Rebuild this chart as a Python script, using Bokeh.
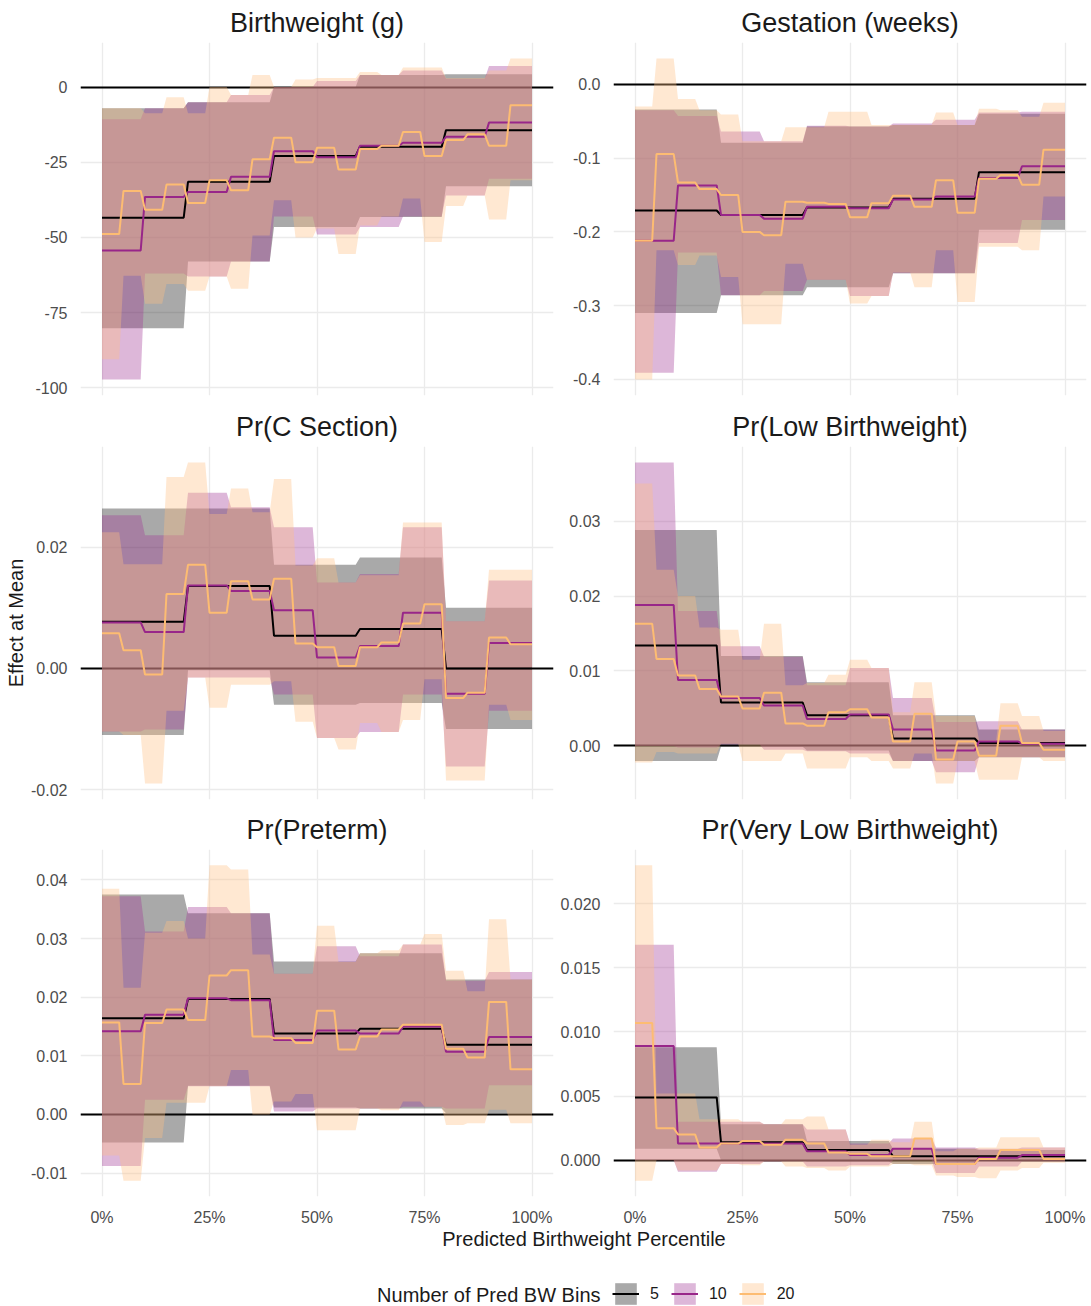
import numpy as np
from bokeh.plotting import figure
from bokeh.layouts import column, row
from bokeh.models import Range1d, FixedTicker, PrintfTickFormatter, Grid, Legend, LegendItem
from bokeh.embed import file_html
from bokeh.resources import INLINE
from bokeh.core.properties import value

# ---------------- data (bin-level estimates) ----------------
BIN_COUNTS = [5, 10, 20]
SERIES_LABELS = ["5", "10", "20"]
X_TICKS = [0, 25, 50, 75, 100]
X_TITLE = "Predicted Birthweight Percentile"
Y_TITLE = "Effect at Mean"
LEGEND_TITLE = "Number of Pred BW Bins"
REF_LINE = 0

# Birthweight (g)
BW_TITLE = "Birthweight (g)"
BW_TICKS = [-100, -75, -50, -25, 0]
BW_EST5 = [-43.4, -31.5, -22.9, -19.8, -14.3]
BW_LO5 = [-80.2, -58.0, -46.5, -43.2, -33.0]
BW_HI5 = [-7.0, -5.0, 0.0, 4.0, 4.3]
BW_EST10 = [-54.3, -36.5, -34.9, -29.8, -21.3, -23.3, -19.5, -18.5, -16.5, -11.8]
BW_LO10 = [-97.2, -62.0, -63.0, -58.0, -43.0, -49.0, -46.5, -43.0, -36.0, -30.5]
BW_HI10 = [-10.7, -7.0, -5.0, -2.6, 0.0, 2.0, 4.0, 5.5, 2.8, 7.0]
BW_EST20 = [-48.8, -34.5, -40.8, -32.4, -38.5, -31.0, -34.3, -24.0, -16.8, -25.0,
            -20.2, -27.4, -20.6, -19.5, -14.9, -22.9, -17.6, -15.7, -19.5, -6.0]
BW_LO20 = [-90.5, -62.7, -72.0, -65.5, -67.7, -63.0, -67.0, -49.3, -37.6, -50.0,
           -47.0, -55.5, -46.0, -43.0, -37.0, -51.5, -39.5, -36.0, -44.0, -31.0]
BW_HI20 = [-7.0, -7.0, -8.7, -3.4, -8.7, 0.0, -2.6, 4.0, 0.0, 2.5,
           3.0, 3.0, 5.0, 4.0, 6.5, 6.5, 3.0, 3.0, 5.5, 9.5]

# Gestation (weeks)
GS_TITLE = "Gestation (weeks)"
GS_TICKS = [-0.4, -0.3, -0.2, -0.1, 0.0]
GS_EST5 = [-0.171, -0.177, -0.167, -0.155, -0.119]
GS_LO5 = [-0.310, -0.286, -0.275, -0.256, -0.197]
GS_HI5 = [-0.034, -0.079, -0.057, -0.055, -0.040]
GS_EST10 = [-0.212, -0.137, -0.177, -0.182, -0.166, -0.168, -0.156, -0.152, -0.127, -0.111]
GS_LO10 = [-0.391, -0.228, -0.286, -0.280, -0.265, -0.287, -0.256, -0.256, -0.215, -0.184]
GS_HI10 = [-0.035, -0.043, -0.064, -0.077, -0.056, -0.057, -0.053, -0.048, -0.038, -0.037]
GS_EST20 = [-0.212, -0.0945, -0.133, -0.142, -0.150, -0.200, -0.2045, -0.159, -0.1605, -0.162,
            -0.180, -0.161, -0.151, -0.166, -0.130, -0.174, -0.128, -0.123, -0.136, -0.0886]
GS_LO20 = [-0.400, -0.225, -0.245, -0.232, -0.261, -0.325, -0.325, -0.243, -0.265, -0.265,
           -0.297, -0.287, -0.255, -0.275, -0.225, -0.295, -0.220, -0.220, -0.225, -0.152]
GS_HI20 = [-0.030, 0.035, -0.020, -0.035, -0.041, -0.077, -0.077, -0.058, -0.058, -0.037,
           -0.037, -0.055, -0.055, -0.055, -0.038, -0.055, -0.033, -0.035, -0.044, -0.025]

# Pr(C Section)
CS_TITLE = "Pr(C Section)"
CS_TICKS = [-0.02, 0.0, 0.02]
CS_EST5 = [0.0077, 0.0136, 0.0054, 0.0065, 0.0000]
CS_LO5 = [-0.0110, -0.0003, -0.0060, -0.0057, -0.0100]
CS_HI5 = [0.0264, 0.0264, 0.0171, 0.0183, 0.0100]
CS_EST10 = [0.0076, 0.0060, 0.0137, 0.0128, 0.0096, 0.0018, 0.0037, 0.0092, -0.0042, 0.0042]
CS_LO10 = [-0.0104, -0.0101, -0.0015, -0.0015, -0.0043, -0.0115, -0.0105, -0.0043, -0.0162, -0.0070]
CS_HI10 = [0.0253, 0.0220, 0.0290, 0.0266, 0.0233, 0.0142, 0.0156, 0.0233, 0.0078, 0.0145]
CS_EST20 = [0.0058, 0.0030, -0.0010, 0.0123, 0.0171, 0.0092, 0.0144, 0.0114, 0.0148, 0.0041,
            0.0035, 0.0004, 0.0035, 0.0043, 0.0074, 0.0106, -0.0049, -0.0040, 0.0051, 0.0040]
CS_LO20 = [-0.0104, -0.0110, -0.0190, -0.0070, -0.0015, -0.0065, -0.0027, -0.0027, -0.0021, -0.0088,
           -0.0115, -0.0134, -0.0090, -0.0105, -0.0085, -0.0018, -0.0185, -0.0185, -0.0060, -0.0085]
CS_HI20 = [0.0225, 0.0172, 0.0172, 0.0316, 0.0340, 0.0255, 0.0297, 0.0258, 0.0313, 0.0170,
           0.0182, 0.0142, 0.0154, 0.0154, 0.0241, 0.0241, 0.0078, 0.0078, 0.0163, 0.0163]

# Pr(Low Birthweight)
LB_TITLE = "Pr(Low Birthweight)"
LB_TICKS = [0.0, 0.01, 0.02, 0.03]
LB_EST5 = [0.0134, 0.0058, 0.0041, 0.0010, 0.0004]
LB_LO5 = [-0.0020, -0.0001, -0.0006, -0.0020, -0.0015]
LB_HI5 = [0.0288, 0.0120, 0.0085, 0.0041, 0.0022]
LB_EST10 = [0.0188, 0.0088, 0.0064, 0.0054, 0.0036, 0.0042, 0.0022, -0.0006, 0.0006, 0.0003]
LB_LO10 = [0.0000, -0.0002, 0.0002, -0.0005, -0.0007, -0.0010, -0.0020, -0.0035, -0.0015, -0.0015]
LB_HI10 = [0.0378, 0.0180, 0.0133, 0.0119, 0.0081, 0.0104, 0.0064, 0.0032, 0.0033, 0.0022]
LB_EST20 = [0.0163, 0.0116, 0.0094, 0.0076, 0.0066, 0.0050, 0.0071, 0.0030, 0.0027, 0.0045,
            0.0049, 0.0038, 0.0006, 0.0043, -0.0018, 0.0006, -0.0013, 0.0027, 0.0004, -0.0005]
LB_LO20 = [-0.0022, -0.0008, -0.0010, -0.0010, 0.0003, -0.0020, -0.0020, -0.0010, -0.0030, -0.0030,
           -0.0015, -0.0020, -0.0030, -0.0010, -0.0050, -0.0020, -0.0045, -0.0045, -0.0015, -0.0020]
LB_HI20 = [0.0350, 0.0235, 0.0200, 0.0158, 0.0155, 0.0115, 0.0163, 0.0081, 0.0084, 0.0095,
           0.0115, 0.0104, 0.0045, 0.0085, 0.0040, 0.0040, 0.0008, 0.0057, 0.0040, 0.0020]

# Pr(Preterm)
PT_TITLE = "Pr(Preterm)"
PT_TICKS = [-0.01, 0.0, 0.01, 0.02, 0.03, 0.04]
PT_EST5 = [0.0164, 0.0197, 0.0138, 0.0146, 0.0119]
PT_LO5 = [-0.0048, 0.0049, 0.0012, 0.0010, 0.0002]
PT_HI5 = [0.0375, 0.0343, 0.0261, 0.0275, 0.0230]
PT_EST10 = [0.0142, 0.0170, 0.0198, 0.0195, 0.0127, 0.0143, 0.0138, 0.0150, 0.0107, 0.0132]
PT_LO10 = [-0.0088, 0.0025, 0.0048, 0.0048, 0.0005, 0.0010, 0.0010, 0.0013, 0.0010, 0.0050]
PT_HI10 = [0.0372, 0.0312, 0.0354, 0.0343, 0.0240, 0.0287, 0.0270, 0.0290, 0.0228, 0.0243]
PT_EST20 = [0.0157, 0.0052, 0.0156, 0.0179, 0.0161, 0.0237, 0.0246, 0.0133, 0.0130, 0.0122,
            0.0177, 0.0111, 0.0133, 0.0145, 0.0153, 0.0153, 0.0112, 0.0097, 0.0192, 0.0077]
PT_LO20 = [-0.0070, -0.0113, -0.0040, 0.0020, 0.0020, 0.0048, 0.0076, 0.0000, 0.0022, 0.0035,
           -0.0027, -0.0027, 0.0010, 0.0007, 0.0022, 0.0013, -0.0018, -0.0015, 0.0008, -0.0015]
PT_HI20 = [0.0385, 0.0216, 0.0310, 0.0330, 0.0300, 0.0425, 0.0418, 0.0273, 0.0240, 0.0240,
           0.0322, 0.0260, 0.0275, 0.0280, 0.0290, 0.0308, 0.0245, 0.0210, 0.0333, 0.0230]

# Pr(Very Low Birthweight)
VL_TITLE = "Pr(Very Low Birthweight)"
VL_TICKS = [0.0, 0.005, 0.010, 0.015, 0.020]
VL_EST5 = [0.0049, 0.0014, 0.0008, 0.0003, 0.0003]
VL_LO5 = [0.0009, 0.0000, -0.0001, -0.0003, 0.0000]
VL_HI5 = [0.0088, 0.0028, 0.0015, 0.0009, 0.0008]
VL_EST10 = [0.0089, 0.0013, 0.0013, 0.0013, 0.0007, 0.0004, 0.0009, -0.0003, 0.0002, 0.0004]
VL_LO10 = [0.0000, -0.0009, -0.0003, -0.0001, -0.0005, -0.0004, 0.0000, -0.0010, -0.0005, -0.0001]
VL_HI10 = [0.0168, 0.0030, 0.0030, 0.0028, 0.0024, 0.0013, 0.0017, 0.0010, 0.0009, 0.0010]
VL_EST20 = [0.0107, 0.0025, 0.0020, 0.0010, 0.0013, 0.0015, 0.0012, 0.0016, 0.0013, 0.0006,
            0.0005, 0.0003, 0.0003, 0.0017, -0.0003, -0.0003, 0.0001, 0.0008, 0.0008, 0.0001]
VL_LO20 = [-0.0016, 0.0000, -0.0008, -0.0008, -0.0003, -0.0004, -0.0001, -0.0005, -0.0006, -0.0008,
           -0.0005, -0.0005, -0.0003, -0.0004, -0.0012, -0.0013, -0.0014, -0.0008, -0.0006, -0.0002]
VL_HI20 = [0.0230, 0.0052, 0.0052, 0.0032, 0.0032, 0.0030, 0.0028, 0.0032, 0.0034, 0.0024,
           0.0012, 0.0016, 0.0014, 0.0030, 0.0007, 0.0009, 0.0010, 0.0018, 0.0018, 0.0010]

PANELS = [
    (BW_TITLE, [(BW_EST5, BW_LO5, BW_HI5), (BW_EST10, BW_LO10, BW_HI10), (BW_EST20, BW_LO20, BW_HI20)], BW_TICKS, "%d"),
    (GS_TITLE, [(GS_EST5, GS_LO5, GS_HI5), (GS_EST10, GS_LO10, GS_HI10), (GS_EST20, GS_LO20, GS_HI20)], GS_TICKS, "%.1f"),
    (CS_TITLE, [(CS_EST5, CS_LO5, CS_HI5), (CS_EST10, CS_LO10, CS_HI10), (CS_EST20, CS_LO20, CS_HI20)], CS_TICKS, "%.2f"),
    (LB_TITLE, [(LB_EST5, LB_LO5, LB_HI5), (LB_EST10, LB_LO10, LB_HI10), (LB_EST20, LB_LO20, LB_HI20)], LB_TICKS, "%.2f"),
    (PT_TITLE, [(PT_EST5, PT_LO5, PT_HI5), (PT_EST10, PT_LO10, PT_HI10), (PT_EST20, PT_LO20, PT_HI20)], PT_TICKS, "%.2f"),
    (VL_TITLE, [(VL_EST5, VL_LO5, VL_HI5), (VL_EST10, VL_LO10, VL_HI10), (VL_EST20, VL_LO20, VL_HI20)], VL_TICKS, "%.3f"),
]

# ---------------- style ----------------
FONT = "Liberation Sans"
LINE_COLORS = ["#000000", "#982689", "#FDBC72"]
FILL_COLORS = ["#111111", "#A03795", "#FFBF82"]
FILL_ALPHA = 0.36
GRID_COLOR = "#EBEBEB"
TICK_COLOR = "#4D4D4D"
TEXT_COLOR = "#1A1A1A"

COL_W = [555, 536]
COL_BORDER_L = [80, 58]
COL_BORDER_R = [2, 5]
ROW_GEOM = [(403, 42, 8), (402, 43, 6), (423, 44, 26)]  # height, top border, bottom border

PCT = np.arange(0, 101)  # predicted-birthweight percentile grid


def expand(vals, n):
    idx = np.minimum((PCT * n) // 100, n - 1)
    return np.asarray(vals, dtype=float)[idx]


def make_panel(i, title, series, yticks, yfmt):
    col, r = i % 2, i // 2
    h, mbt, mbb = ROW_GEOM[r]
    lo = min(REF_LINE, min(min(s[1]) for s in series))
    hi = max(REF_LINE, max(max(s[2]) for s in series))
    pad = 0.05 * (hi - lo)
    p = figure(width=COL_W[col], height=h,
               min_border_left=COL_BORDER_L[col], min_border_right=COL_BORDER_R[col],
               min_border_top=mbt, min_border_bottom=mbb,
               x_range=Range1d(-5, 105), y_range=Range1d(lo - pad, hi + pad),
               x_axis_location="below" if r == 2 else None,
               toolbar_location=None, output_backend="svg", title=title)
    p.outline_line_color = None
    p.background_fill_color = "white"
    p.border_fill_color = "white"
    p.title.align = "center"
    p.title.text_font = FONT
    p.title.text_font_size = "27px"
    p.title.text_font_style = "normal"
    p.title.text_color = TEXT_COLOR
    p.title.standoff = 9

    yax = p.yaxis[0]
    yax.ticker = FixedTicker(ticks=yticks)
    yax.formatter = PrintfTickFormatter(format=yfmt)
    yax.axis_line_color = None
    yax.major_tick_line_color = None
    yax.minor_tick_line_color = None
    yax.major_label_text_font = FONT
    yax.major_label_text_font_size = "16px"
    yax.major_label_text_color = TICK_COLOR
    yax.major_label_standoff = 7
    if i == 2:
        yax.axis_label = Y_TITLE
        yax.axis_label_text_font = FONT
        yax.axis_label_text_font_size = "20px"
        yax.axis_label_text_font_style = "normal"
        yax.axis_label_text_color = TEXT_COLOR
        yax.axis_label_standoff = 1

    x_ticker = FixedTicker(ticks=X_TICKS)
    if r == 2:
        xax = p.xaxis[0]
        xax.ticker = x_ticker
        xax.formatter = PrintfTickFormatter(format="%d%%")
        xax.axis_line_color = None
        xax.major_tick_line_color = None
        xax.minor_tick_line_color = None
        xax.major_label_text_font = FONT
        xax.major_label_text_font_size = "16px"
        xax.major_label_text_color = TICK_COLOR
        xax.major_label_standoff = 6
    else:
        if len(p.xgrid) > 0:
            for g in p.xgrid:
                g.ticker = x_ticker
        else:
            p.add_layout(Grid(dimension=0, ticker=x_ticker))

    for g in p.grid:
        g.grid_line_color = GRID_COLOR
        g.grid_line_width = 1.3

    p.hspan(y=[REF_LINE], line_color="black", line_width=2)

    for (est, lo_, hi_), n, c in zip(series, BIN_COUNTS, FILL_COLORS):
        p.varea(x=PCT, y1=expand(lo_, n), y2=expand(hi_, n), fill_color=c, fill_alpha=FILL_ALPHA)
    for (est, lo_, hi_), n, c in zip(series, BIN_COUNTS, LINE_COLORS):
        p.line(x=PCT, y=expand(est, n), line_color=c, line_width=2)
    return p


panels = [make_panel(i, *pan) for i, pan in enumerate(PANELS)]

# ---------------- bottom strip: x title + legend ----------------
BOT_H = 78
bottom = figure(width=1091, height=BOT_H, x_range=Range1d(0, 1091), y_range=Range1d(0, BOT_H),
                x_axis_location=None, y_axis_location=None, min_border=0,
                toolbar_location=None, output_backend="svg")
bottom.outline_line_color = None
for g in bottom.grid:
    g.visible = False
bottom.text(x=[(80 + 1087) / 2], y=[BOT_H - 10], text=[X_TITLE], text_align="center",
            text_baseline="middle", text_font=value(FONT), text_font_size="20px",
            text_color=TEXT_COLOR)
bottom.text(x=[600], y=[12], text=[LEGEND_TITLE], text_align="right",
            text_baseline="middle", text_font=value(FONT), text_font_size="20px",
            text_color=TEXT_COLOR)

items = []
for lab, lc, fc in zip(SERIES_LABELS, LINE_COLORS, FILL_COLORS):
    # legend-only renderers (NaN data: nothing drawn in the strip itself)
    ra = bottom.varea(x=[np.nan], y1=[np.nan], y2=[np.nan], fill_color=fc, fill_alpha=FILL_ALPHA)
    rl = bottom.line(x=[np.nan], y=[np.nan], line_color=lc, line_width=2)
    items.append(LegendItem(label=lab, renderers=[ra, rl]))
legend = Legend(items=items, orientation="horizontal", location=(612, -1),
                glyph_width=27, glyph_height=27, label_standoff=11, spacing=12,
                label_width=0, label_height=27, padding=0, margin=0,
                label_text_font=FONT, label_text_font_size="16px",
                label_text_color=TEXT_COLOR, label_text_baseline="middle",
                border_line_alpha=0, background_fill_alpha=0)
bottom.add_layout(legend)

layout = column(row(panels[0], panels[1]), row(panels[2], panels[3]),
                row(panels[4], panels[5]), bottom)

open("out.html", "w").write(file_html(layout, INLINE))
